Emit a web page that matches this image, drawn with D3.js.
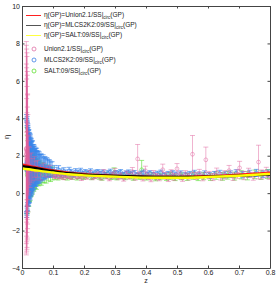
<!DOCTYPE html>
<html>
<head>
<meta charset="utf-8">
<script src="https://cdn.jsdelivr.net/npm/d3@7"></script>
<style>
  body { margin: 0; background: #fff; }
  svg { display: block; font-family: "Liberation Sans", Arial, sans-serif; }
</style>
</head>
<body>
<div id="chart"></div>
<script>
// axis ticks
var xTicks = [0, 0.1, 0.2, 0.3, 0.4, 0.5, 0.6, 0.7, 0.8];
var yTicks = [-4, -2, 0, 2, 4, 6, 8, 10];

// reconstructed eta(z) curves
var curveZ      = [0, 0.02, 0.05, 0.1, 0.15, 0.2, 0.3, 0.4, 0.5, 0.6, 0.7, 0.8];
var unionCurve  = [1.53, 1.46, 1.36, 1.21, 1.09, 1.01, 0.92, 0.87, 0.86, 0.90, 0.98, 1.09];
var mlcsCurve   = [1.44, 1.40, 1.32, 1.18, 1.06, 0.99, 0.92, 0.88, 0.86, 0.88, 0.93, 1.00];
var saltCurve   = [1.32, 1.28, 1.20, 1.10, 1.01, 0.95, 0.88, 0.83, 0.82, 0.86, 0.93, 1.03];

// [z, eta, err]
var unionPoints = [
  [0.014,2.4,5.7],[0.015,2.3,5.4],[0.016,2.2,5.1],[0.014,2.1,4.8],[0.017,2.0,4.5],[0.015,1.9,4.2],
  [0.016,1.8,3.9],[0.018,1.7,3.6],[0.015,1.75,3.3],[0.017,1.6,3.0],[0.016,1.5,2.8],[0.019,1.6,2.6],
  [0.015,1.4,2.4],[0.018,1.5,2.2],[0.017,1.3,2.0],[0.016,1.45,1.8],[0.019,1.35,1.7],[0.020,1.5,1.6],
  [0.014,2.35,5.55],[0.016,2.25,5.25],[0.015,2.05,4.65],[0.017,1.95,4.35],[0.018,1.8,3.45],[0.020,1.4,1.4],
  [0.022,1.3,1.2],[0.024,1.45,1.0],[0.026,1.2,0.9],[0.030,1.35,0.8],[0.035,1.25,0.6],[0.040,1.4,0.55],
  [0.045,1.2,0.5],[0.050,1.3,0.45],[0.060,1.1,0.4],[0.070,1.25,0.35],[0.080,1.15,0.3],[0.090,1.2,0.28],
  [0.102,0.95,0.12],[0.108,0.88,0.10],[0.115,1.02,0.14],[0.121,0.86,0.10],[0.128,0.92,0.12],[0.136,0.82,0.10],
  [0.143,0.97,0.13],[0.151,0.90,0.11],[0.159,0.85,0.12],[0.168,0.99,0.14],[0.176,0.88,0.12],[0.184,0.93,0.13],
  [0.192,0.80,0.12],[0.201,0.96,0.15],[0.210,0.87,0.13],[0.219,1.05,0.16],[0.228,0.84,0.12],[0.237,0.92,0.14],
  [0.246,0.98,0.15],[0.255,0.83,0.13],[0.264,1.08,0.18],[0.273,0.90,0.14],[0.282,0.79,0.13],[0.291,0.95,0.16],
  [0.300,1.12,0.20],[0.310,0.86,0.14],[0.319,0.93,0.15],[0.328,0.78,0.14],[0.337,1.00,0.17],[0.346,0.89,0.15],
  [0.356,1.15,0.22],[0.365,0.84,0.15],[0.373,1.83,0.77],[0.381,0.95,0.17],[0.390,0.80,0.15],[0.398,1.20,0.24],
  [0.407,0.90,0.17],[0.416,0.76,0.15],[0.425,1.02,0.19],[0.434,0.88,0.17],[0.443,0.82,0.16],[0.454,1.25,0.30],
  [0.463,0.92,0.18],[0.472,0.78,0.16],[0.481,1.05,0.20],[0.490,0.86,0.18],[0.500,1.30,0.28],[0.509,0.94,0.19],
  [0.518,0.80,0.17],[0.527,1.00,0.20],[0.538,0.88,0.18],[0.550,2.08,1.00],[0.561,0.92,0.19],[0.572,1.05,0.22],
  [0.583,0.84,0.18],[0.593,1.78,0.68],[0.604,0.96,0.20],[0.616,0.86,0.19],[0.628,1.10,0.24],[0.641,0.90,0.20],
  [0.654,0.98,0.22],[0.668,1.20,0.28],[0.681,0.88,0.20],[0.695,1.02,0.23],[0.702,1.35,0.35],[0.716,0.94,0.22],
  [0.731,1.08,0.25],[0.746,0.90,0.21],[0.763,1.66,0.90],[0.774,1.00,0.24],[0.788,1.12,0.26],[0.797,0.95,0.22]
];

var mlcsPoints = [
  [0.0145,1.6,2.6],[0.015,1.3,2.6],[0.0155,1.5,2.5],[0.016,1.2,2.4],[0.0165,1.7,2.4],[0.017,1.4,2.35],
  [0.0175,1.55,2.25],[0.018,1.25,2.2],[0.0185,1.45,2.15],[0.019,1.6,2.1],[0.0195,1.35,2.05],[0.020,1.5,2.0],
  [0.021,1.3,1.95],[0.022,1.55,1.85],[0.023,1.4,1.8],[0.024,1.25,1.75],[0.025,1.5,1.7],[0.026,1.35,1.6],
  [0.027,1.6,1.55],[0.028,1.4,1.5],[0.029,1.3,1.45],[0.030,1.5,1.4],[0.031,1.35,1.38],[0.032,1.45,1.32],
  [0.033,1.3,1.28],[0.034,1.55,1.25],[0.035,1.4,1.2],[0.037,1.35,1.15],[0.038,1.5,1.1],[0.040,1.3,1.05],
  [0.041,1.45,1.02],[0.043,1.4,0.98],[0.045,1.3,0.94],[0.047,1.5,0.9],[0.049,1.35,0.86],[0.051,1.4,0.82],
  [0.054,1.3,0.78],[0.056,1.45,0.75],[0.059,1.35,0.71],[0.062,1.4,0.68],[0.065,1.3,0.64],[0.068,1.45,0.6],
  [0.072,1.35,0.57],[0.076,1.3,0.54],[0.080,1.4,0.5],[0.084,1.3,0.47],[0.088,1.35,0.44],[0.093,1.25,0.41],
  [0.097,1.3,0.38],
  [0.0148,1.45,2.55],[0.0158,1.35,2.45],[0.0168,1.55,2.35],[0.0178,1.3,2.2],[0.0188,1.5,2.1],[0.0205,1.4,1.95],
  [0.0215,1.45,1.9],[0.0225,1.3,1.85],[0.0235,1.5,1.75],[0.0245,1.4,1.7],[0.0255,1.3,1.65],[0.0265,1.45,1.6],
  [0.0275,1.35,1.5],[0.0285,1.5,1.45],[0.0295,1.4,1.4],[0.0305,1.3,1.38],[0.0315,1.45,1.33],[0.036,1.3,1.18],
  [0.039,1.45,1.08],[0.042,1.35,1.0],[0.044,1.45,0.96],[0.046,1.35,0.92],[0.048,1.4,0.88],[0.053,1.45,0.8],
  [0.057,1.3,0.74],[0.061,1.4,0.7],[0.070,1.3,0.58],[0.074,1.4,0.56],[0.082,1.35,0.48],[0.090,1.3,0.43],
  [0.104,1.18,0.30],[0.112,1.12,0.26],[0.118,1.22,0.25],[0.127,1.08,0.22],[0.135,1.15,0.21],[0.141,1.05,0.19],
  [0.152,1.19,0.19],[0.158,1.10,0.17],[0.166,1.02,0.16],[0.173,1.14,0.17],[0.181,1.08,0.15],[0.189,1.17,0.16],
  [0.196,1.03,0.14],[0.204,1.11,0.15],[0.213,1.06,0.14],[0.221,1.15,0.15],[0.229,1.00,0.13],[0.236,1.09,0.14],
  [0.245,1.12,0.14],[0.252,1.04,0.13],[0.261,1.10,0.14],[0.268,0.98,0.12],[0.277,1.07,0.13],[0.285,1.13,0.15],
  [0.293,1.01,0.12],[0.302,1.08,0.13],[0.311,1.05,0.13],[0.318,1.12,0.14],[0.327,0.99,0.12],[0.336,1.06,0.13],
  [0.344,1.10,0.14],[0.351,1.02,0.13],[0.362,1.07,0.14],[0.371,0.97,0.12],[0.383,1.04,0.13],[0.392,1.09,0.14],
  [0.404,1.00,0.13],[0.413,1.06,0.14],[0.425,0.98,0.13],[0.437,1.03,0.14],[0.448,1.08,0.15],[0.459,0.96,0.13],
  [0.471,1.02,0.14],[0.486,1.05,0.15],[0.497,0.99,0.14],[0.512,1.04,0.15],[0.528,0.97,0.14],[0.541,1.01,0.15],
  [0.556,1.06,0.16],[0.572,0.98,0.15],[0.589,1.03,0.16],[0.604,0.95,0.15],[0.621,1.00,0.16],[0.638,1.05,0.17],
  [0.655,0.98,0.16],[0.673,1.02,0.17],[0.691,1.07,0.18],[0.712,0.99,0.17],[0.734,1.04,0.18],[0.756,1.08,0.19],
  [0.778,1.01,0.18],[0.795,1.05,0.19]
];

var saltPoints = [
  [0.016,1.2,2.3],[0.017,1.0,2.1],[0.018,1.3,2.0],[0.019,0.9,1.9],[0.020,1.1,1.8],[0.021,1.25,1.7],
  [0.022,0.95,1.65],[0.023,1.15,1.6],[0.024,1.05,1.5],[0.025,1.3,1.45],[0.026,1.0,1.4],[0.027,1.2,1.35],
  [0.028,1.1,1.3],[0.030,1.05,1.2],[0.032,1.2,1.15],[0.034,1.0,1.05],[0.036,1.15,1.0],[0.038,1.05,0.95],
  [0.040,1.2,0.9],[0.043,1.1,0.85],[0.046,1.0,0.8],[0.050,1.15,0.72],[0.054,1.05,0.66],[0.058,1.1,0.62],
  [0.062,1.0,0.58],[0.067,1.1,0.54],[0.072,1.05,0.5],[0.078,1.0,0.46],[0.085,1.08,0.42],[0.092,1.0,0.38],
  [0.098,1.05,0.35],
  [0.107,0.95,0.22],[0.116,0.90,0.20],[0.124,1.00,0.20],[0.133,0.92,0.18],[0.146,0.87,0.17],[0.155,0.96,0.17],
  [0.163,0.90,0.16],[0.178,0.85,0.15],[0.187,0.94,0.16],[0.199,0.88,0.15],[0.208,0.97,0.16],[0.224,0.86,0.14],
  [0.233,0.93,0.15],[0.249,0.89,0.15],[0.258,0.83,0.14],[0.271,0.95,0.16],[0.287,0.88,0.15],[0.297,1.05,0.30],
  [0.306,0.85,0.14],[0.323,0.92,0.15],[0.333,0.87,0.15],[0.348,0.94,0.16],[0.359,0.84,0.15],[0.376,0.90,0.16],
  [0.386,1.25,0.50],[0.401,0.86,0.16],[0.419,0.93,0.17],[0.431,0.82,0.16],[0.446,0.89,0.17],[0.466,0.85,0.17],
  [0.479,0.92,0.18],[0.494,0.84,0.17],[0.515,0.90,0.18],[0.533,0.86,0.18],[0.552,0.93,0.19],[0.568,0.85,0.18],
  [0.586,0.91,0.19],[0.608,0.87,0.19],[0.626,0.94,0.20],[0.647,0.89,0.20],[0.664,0.96,0.21],[0.686,0.91,0.21],
  [0.707,0.98,0.22],[0.727,0.93,0.22],[0.751,1.00,0.23],[0.771,0.96,0.23],[0.792,1.02,0.24]
];

var legendLabels = ["η(GP)=Union2.1/SS|", "η(GP)=MLCS2K2:09/SS|", "η(GP)=SALT:09/SS|",
                    "Union2.1/SS|", "MLCS2K2:09/SS|", "SALT:09/SS|"];

var width = 277, height = 285;
var x = d3.scaleLinear().domain([0, 0.8]).range([22, 270]);
var y = d3.scaleLinear().domain([-4, 10]).range([268, 6]);

var svg = d3.select("#chart").append("svg")
    .attr("width", width)
    .attr("height", height);

svg.append("defs").append("clipPath")
    .attr("id", "plotClip")
  .append("rect")
    .attr("x", 22).attr("y", 6)
    .attr("width", 248).attr("height", 262);

var plot = svg.append("g").attr("clip-path", "url(#plotClip)");

function drawSeries(points, color, opacity) {
  var g = plot.append("g")
      .attr("stroke", color)
      .attr("stroke-opacity", opacity)
      .attr("fill", "none")
      .attr("stroke-width", 0.8);

  var pts = g.selectAll("g").data(points).enter().append("g");

  pts.append("path")
      .attr("d", function (d) {
        var cx = x(d[0]), top = y(d[1] + d[2]), bot = y(d[1] - d[2]);
        return "M" + cx + "," + top + "V" + bot +
               "M" + (cx - 2.5) + "," + top + "H" + (cx + 2.5) +
               "M" + (cx - 2.5) + "," + bot + "H" + (cx + 2.5);
      });

  pts.append("circle")
      .attr("cx", function (d) { return x(d[0]); })
      .attr("cy", function (d) { return y(d[1]); })
      .attr("r", 1.9);
}

drawSeries(saltPoints, "#62e03c", 0.8);
drawSeries(mlcsPoints, "#3b87ea", 0.85);
drawSeries(unionPoints, "#e0609c", 0.6);

var line = d3.line()
    .x(function (d) { return x(d[0]); })
    .y(function (d) { return y(d[1]); })
    .curve(d3.curveMonotoneX);

function curveData(vals) {
  return curveZ.map(function (z, i) { return [z, vals[i]]; });
}

plot.append("path").datum(curveData(unionCurve))
    .attr("d", line).attr("fill", "none")
    .attr("stroke", "#ff1a1a").attr("stroke-width", 2.4);
plot.append("path").datum(curveData(mlcsCurve))
    .attr("d", line).attr("fill", "none")
    .attr("stroke", "#000").attr("stroke-width", 2.4);
plot.append("path").datum(curveData(saltCurve))
    .attr("d", line).attr("fill", "none")
    .attr("stroke", "#ffff00").attr("stroke-width", 2.4);

// axes, ticks pointing inwards on all four sides
var axisColor = "#444";

function styleAxis(g) {
  g.select(".domain").attr("stroke", axisColor);
  g.selectAll(".tick line").attr("stroke", axisColor);
  g.selectAll(".tick text").attr("fill", "#222").style("font-size", "7px");
}

svg.append("g")
    .attr("transform", "translate(0,268)")
    .call(d3.axisBottom(x).tickValues(xTicks).tickSizeInner(-2.5).tickSizeOuter(0)
          .tickPadding(2).tickFormat(d3.format("")))
    .call(styleAxis);

svg.append("g")
    .attr("transform", "translate(0,6)")
    .call(d3.axisTop(x).tickValues(xTicks).tickSizeInner(-2.5).tickSizeOuter(0).tickFormat(""))
    .call(styleAxis);

svg.append("g")
    .attr("transform", "translate(22,0)")
    .call(d3.axisLeft(y).tickValues(yTicks).tickSizeInner(-2.5).tickSizeOuter(0).tickPadding(2))
    .call(styleAxis);

svg.append("g")
    .attr("transform", "translate(270,0)")
    .call(d3.axisRight(y).tickValues(yTicks).tickSizeInner(-2.5).tickSizeOuter(0).tickFormat(""))
    .call(styleAxis);

svg.selectAll(".domain").attr("stroke-width", 1);

// axis labels
svg.append("text")
    .attr("x", 146).attr("y", 283)
    .attr("text-anchor", "middle")
    .style("font-size", "7px").attr("fill", "#222")
    .text("z");

svg.append("text")
    .attr("transform", "translate(9,137) rotate(-90)")
    .attr("text-anchor", "middle")
    .style("font-size", "7.5px").attr("fill", "#222")
    .text("η");

// legend
var legend = svg.append("g");
var lineColors = ["#ff2020", "#555", "#ffff40"];
var markColors = ["#e070a4", "#3b7de6", "#5ee030"];
var rowY = [15, 25, 35, 49, 60, 71];

legendLabels.forEach(function (label, i) {
  if (i < 3) {
    legend.append("line")
        .attr("x1", 26).attr("x2", 41)
        .attr("y1", rowY[i] + 0.5).attr("y2", rowY[i] + 0.5)
        .attr("stroke", lineColors[i]).attr("stroke-width", 1);
  } else {
    legend.append("circle")
        .attr("cx", 34).attr("cy", rowY[i]).attr("r", 2)
        .attr("fill", "none").attr("stroke", markColors[i - 3]).attr("stroke-width", 0.8);
  }
  var t = legend.append("text")
      .attr("x", 44).attr("y", rowY[i] + 2.3)
      .style("font-size", "6.5px").attr("fill", "#222");
  t.append("tspan").text(label);
  t.append("tspan").attr("dy", 2).style("font-size", "4.5px").text("circ");
  t.append("tspan").attr("dy", -2).text("(GP)");
});
</script>
</body>
</html>
